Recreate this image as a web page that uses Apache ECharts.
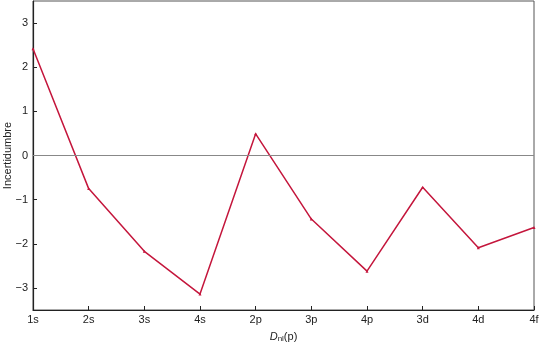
<!DOCTYPE html>
<html><head><meta charset="utf-8">
<script src="https://cdn.jsdelivr.net/npm/echarts@6/dist/echarts.min.js"></script>
<style>html,body{margin:0;padding:0;background:#fff}#c{width:540px;height:346px}</style>
</head><body><div id="c"></div>
<script>
const categories = ['1s','2s','3s','4s','2p','3p','4p','3d','4d','4f'];
const values = [2.42, -0.75, -2.17, -3.14, 0.49, -1.44, -2.62, -0.72, -2.09, -1.63];
const yTicks = [-3, -2, -1, 0, 1, 2, 3];
const chart = echarts.init(document.getElementById('c'));
const font = 'Liberation Sans, Arial, sans-serif';
chart.setOption({
  animation: false,
  grid: {left: 33, right: 6, top: 1, bottom: 36, show: true, borderColor: '#555', borderWidth: 1,
    containLabel: false, outerBoundsMode: 'none'},
  xAxis: {
    type: 'category', data: categories, boundaryGap: false,
    axisLine: {onZero: false, lineStyle: {color: '#222', width: 1.2}},
    axisTick: {inside: true, length: 4, lineStyle: {color: '#222'}},
    axisLabel: {color: '#222', fontFamily: font, fontSize: 11, margin: 4},
    splitLine: {show: false},
    name: '{d|D}{s|nl}{n|(p)}', nameLocation: 'middle', nameGap: 20, nameMoveOverlap: false,
    nameTextStyle: {
      rich: {
        d: {fontStyle: 'italic', fontFamily: font, fontSize: 11, color: '#222'},
        s: {fontFamily: font, fontSize: 8, color: '#222', padding: [5, 0, 0, 0]},
        n: {fontFamily: font, fontSize: 11, color: '#222'}
      }
    }
  },
  yAxis: {
    type: 'value', min: -3.5, max: 3.5,
    axisLine: {show: true, onZero: false, lineStyle: {color: '#222', width: 1.2}},
    axisTick: {show: true, inside: true, length: 4, customValues: yTicks, lineStyle: {color: '#222'}},
    axisLabel: {customValues: yTicks, color: '#222', fontFamily: font, fontSize: 11, margin: 5,
      formatter: v => v < 0 ? '\u2212' + Math.abs(v) : String(v)},
    splitLine: {show: false},
    name: 'Incertidumbre', nameLocation: 'middle', nameGap: 20, nameRotate: 90, nameMoveOverlap: false,
    nameTextStyle: {fontFamily: font, fontSize: 11, color: '#222'}
  },
  series: [{
    type: 'line', data: values,
    symbol: 'triangle', symbolSize: 3, showSymbol: true,
    lineStyle: {color: '#c4163c', width: 1.5},
    itemStyle: {color: '#c4163c'},
    markLine: {
      silent: true, symbol: 'none', label: {show: false},
      lineStyle: {color: '#888', width: 1.2, type: 'solid'},
      data: [{yAxis: 0}]
    },
    z: 3
  }]
});
</script></body></html>
